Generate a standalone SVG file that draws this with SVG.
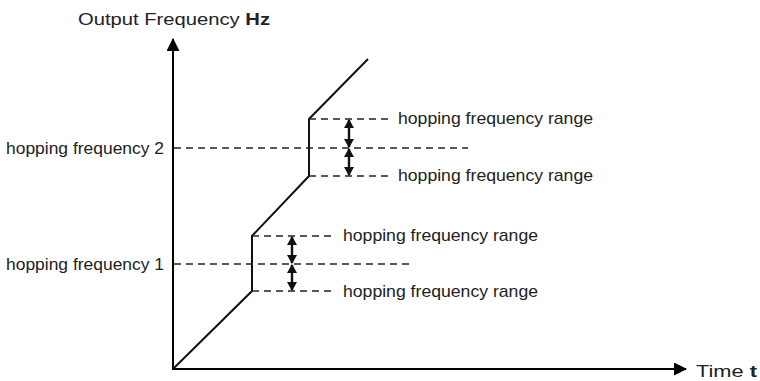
<svg xmlns="http://www.w3.org/2000/svg" width="760" height="381" viewBox="0 0 760 381">
<style>
.t{font-family:"Liberation Sans",Arial,sans-serif;font-size:17px;fill:#222}
.b{font-weight:bold}
.ax{stroke:#000;stroke-width:2;fill:none}
.cv{stroke:#111;stroke-width:2;fill:none;stroke-linejoin:miter}
.d{stroke:#222;stroke-width:1.4;stroke-dasharray:7 5;fill:none}
.da{stroke:#111;stroke-width:2.4;fill:none}
</style>
<defs>
<marker id="ah" markerWidth="13" markerHeight="13" refX="12" refY="6.5" orient="auto" markerUnits="userSpaceOnUse">
<path d="M0,0 L13,6.5 L0,13 Z" fill="#000"/>
</marker>
<marker id="sh" markerWidth="9" markerHeight="10" refX="8" refY="5" orient="auto-start-reverse" markerUnits="userSpaceOnUse">
<path d="M0,0 L9,5 L0,10 Z" fill="#111"/>
</marker>
</defs>
<rect width="760" height="381" fill="#fff"/>
<g id="connectors">
<line class="ax" x1="173" y1="370" x2="173" y2="39" marker-end="url(#ah)"/>
<line class="ax" x1="172" y1="369" x2="686" y2="369" marker-end="url(#ah)"/>
<polyline class="cv" points="173,369 252,291 252,236 309,176 309,119 368,59"/>
<line class="d" x1="174" y1="148" x2="468" y2="148"/>
<line class="d" x1="309" y1="119" x2="388" y2="119"/>
<line class="d" x1="309" y1="176" x2="388" y2="176"/>
<line class="d" x1="174" y1="264" x2="410" y2="264"/>
<line class="d" x1="252" y1="236" x2="332" y2="236"/>
<line class="d" x1="252" y1="291" x2="332" y2="291"/>
<line class="da" x1="349" y1="120" x2="349" y2="147" marker-start="url(#sh)" marker-end="url(#sh)"/>
<line class="da" x1="349" y1="149" x2="349" y2="175" marker-start="url(#sh)" marker-end="url(#sh)"/>
<line class="da" x1="292" y1="237" x2="292" y2="263" marker-start="url(#sh)" marker-end="url(#sh)"/>
<line class="da" x1="292" y1="265" x2="292" y2="290" marker-start="url(#sh)" marker-end="url(#sh)"/>
</g>
<g id="y-label"><text class="t" x="78" y="25" textLength="192" lengthAdjust="spacingAndGlyphs">Output Frequency <tspan class="b">Hz</tspan></text></g>
<g id="x-label"><text class="t" x="696" y="377" textLength="61" lengthAdjust="spacingAndGlyphs">Time <tspan class="b">t</tspan></text></g>
<g id="hf2"><text class="t" x="6" y="154" textLength="158" lengthAdjust="spacingAndGlyphs">hopping frequency 2</text></g>
<g id="hf2-upper"><text class="t" x="398" y="124" textLength="195" lengthAdjust="spacingAndGlyphs">hopping frequency range</text></g>
<g id="hf2-lower"><text class="t" x="398" y="181" textLength="195" lengthAdjust="spacingAndGlyphs">hopping frequency range</text></g>
<g id="hf1"><text class="t" x="6" y="270" textLength="158" lengthAdjust="spacingAndGlyphs">hopping frequency 1</text></g>
<g id="hf1-upper"><text class="t" x="343" y="241" textLength="195" lengthAdjust="spacingAndGlyphs">hopping frequency range</text></g>
<g id="hf1-lower"><text class="t" x="343" y="297" textLength="195" lengthAdjust="spacingAndGlyphs">hopping frequency range</text></g>
</svg>
